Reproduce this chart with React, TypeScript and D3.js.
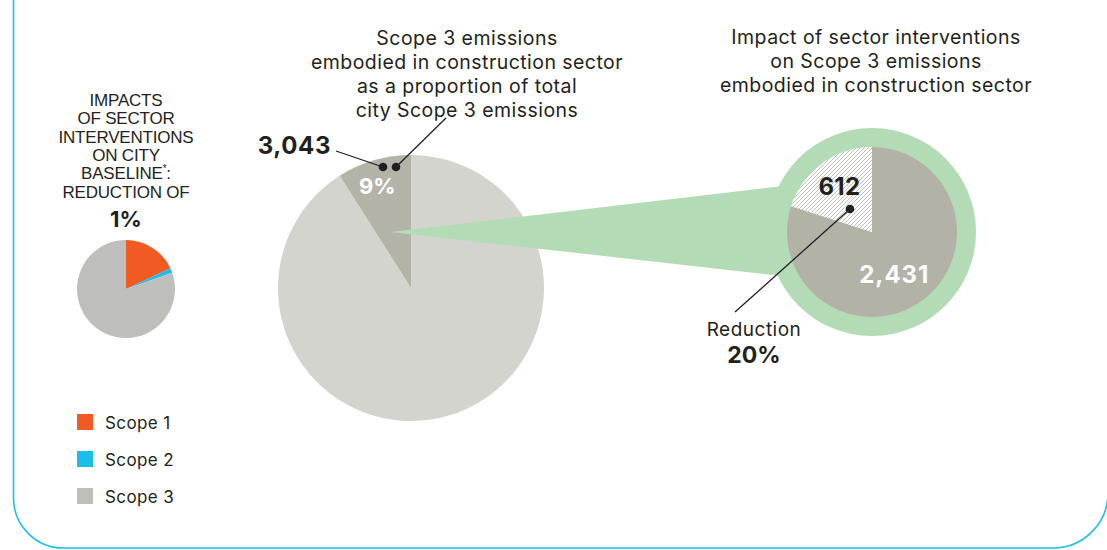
import * as d3 from 'd3'

const scopeLabels = ['Scope 1', 'Scope 2', 'Scope 3']
const scopeShares = [18, 1.6, 80.4]
const scopeColors = ['#F15A22', '#1DBDEA', '#BEBEBA']

const cityShareLabels = ['Other Scope 3', 'Construction sector']
const cityShareValues = [91, 9]

const sectorLabels = ['Remaining', 'Reduction']
const sectorValues = [2431, 612]

const leftTitle = ['IMPACTS', 'OF SECTOR', 'INTERVENTIONS', 'ON CITY', 'BASELINE*:', 'REDUCTION OF']
const leftValue = '1%'
const midTitle = ['Scope 3 emissions', 'embodied in construction sector', 'as a proportion of total', 'city Scope 3 emissions']
const rightTitle = ['Impact of sector interventions', 'on Scope 3 emissions', 'embodied in construction sector']

const W = 1107
const H = 550
const SANS = 'Inter, "Noto Sans", sans-serif'
const ARIAL = '"Liberation Sans", Arial, sans-serif'
const INK = '#231F20'
const GREEN = '#B3DBB5'

export default function App() {
  const pie = d3.pie<number>().sort(null).startAngle(0).endAngle(2 * Math.PI)

  // small pie
  const small = { cx: 126, cy: 289, r: 49 }
  const smallArcs = pie(scopeShares)
  const smallArc = d3.arc<d3.PieArcDatum<number>>().innerRadius(0).outerRadius(small.r)

  // big pie
  const big = { cx: 411, cy: 288, r: 133 }
  const bigArcs = pie(cityShareValues)
  const bigArc = d3.arc<d3.PieArcDatum<number>>().innerRadius(0).outerRadius(big.r)
  const bigLabelArc = d3.arc<d3.PieArcDatum<number>>().innerRadius(big.r * 0.6).outerRadius(big.r * 1.0)

  // right pie
  const rp = { cx: 872, cy: 232, r: 85, ring: 104 }
  const rArcs = pie(sectorValues)
  const rArc = d3.arc<d3.PieArcDatum<number>>().innerRadius(0).outerRadius(rp.r)
  const total = d3.sum(sectorValues)
  const fmt = d3.format(',')
  const reductionPct = d3.format('.0%')(sectorValues[1] / total)
  const sharePct = cityShareValues[1] + '%'

  const slice = bigArcs[1]
  const [lx, ly] = bigLabelArc.centroid(slice)
  const rc0 = d3.arc<d3.PieArcDatum<number>>().innerRadius(0).outerRadius(rp.r * 0.85).centroid(rArcs[0])
  const rc1 = d3.arc<d3.PieArcDatum<number>>().innerRadius(rp.r * 0.45).outerRadius(rp.r * 0.85).centroid(rArcs[1])

  // wedge linking slice to the right pie
  const tip: [number, number] = [big.cx - 21, rp.cy]
  const wedge = d3.line()([
    tip,
    [rp.cx - 72, rp.cy - 48],
    [rp.cx, rp.cy],
    [rp.cx - 72, rp.cy + 46],
  ]) + 'Z'

  const dot1: [number, number] = [big.cx - 28, big.cy - 121]
  const dot2: [number, number] = [big.cx - 15, big.cy - 121]
  const rDot: [number, number] = [rp.cx - 22, rp.cy - 23]

  const rr = 50
  const rr2 = 55
  const border = `M13.5,0 V${548 - rr} A${rr},${rr} 0 0 0 ${13.5 + rr},548 H${1108 - rr2} A${rr2},${rr2} 0 0 0 1108,${548 - rr2} V0`

  return (
    <svg width={W} height={H} style={{ position: 'absolute', left: 0, top: 0, background: '#fff' }}>
      <defs>
        <pattern id="hatch" patternUnits="userSpaceOnUse" width={4} height={4}>
          <rect width={4} height={4} fill="#fff" />
          <path d="M-1,1 l2,-2 M0,4 l4,-4 M3,5 l2,-2" stroke="#A8A8A4" strokeWidth={0.7} />
        </pattern>
      </defs>

      <path d={border} fill="none" stroke="#1BC0EC" strokeWidth={1.6} />

      {/* left block */}
      <g fontFamily={ARIAL} fill={INK} textAnchor="middle">
        {leftTitle.map((t, i) => (
          <text key={t} x={small.cx} y={106 + i * 18.3} fontSize={17} letterSpacing={-0.2}>
            {t.includes('*') ? (
              <>
                {t.split('*')[0]}
                <tspan fontSize={10} dy={-7}>*</tspan>
                <tspan dy={7}>{t.split('*')[1]}</tspan>
              </>
            ) : t}
          </text>
        ))}
        <text x={small.cx} y={227} fontSize={22} fontWeight={700} fontFamily={SANS}>{leftValue}</text>
      </g>
      <g transform={`translate(${small.cx},${small.cy})`}>
        {smallArcs.map((a, i) => (
          <path key={i} d={smallArc(a) || ''} fill={scopeColors[i]} />
        ))}
      </g>

      {/* legend */}
      <g fontFamily={SANS} fontSize={17} letterSpacing={0.4} fill={INK}>
        {scopeLabels.map((s, i) => (
          <g key={s} transform={`translate(77,${414 + i * 37})`}>
            <rect width={16} height={16} fill={scopeColors[i]} />
            <text x={28} y={14.5}>{s}</text>
          </g>
        ))}
      </g>

      {/* big pie */}
      <g transform={`translate(${big.cx},${big.cy})`}>
        {bigArcs.map((a, i) => (
          <path key={cityShareLabels[i]} d={bigArc(a) || ''} fill={i === 1 ? '#B4B3A8' : '#D4D4CF'} />
        ))}
        <text x={lx - 4} y={ly + 8} textAnchor="middle" fontFamily={SANS} fontWeight={700} fontSize={22} fill="#fff">{sharePct}</text>
      </g>

      {/* connector wedge + ring */}
      <path d={wedge} fill={GREEN} />
      <circle cx={rp.cx} cy={rp.cy} r={rp.ring} fill={GREEN} />
      <g transform={`translate(${rp.cx},${rp.cy})`}>
        {rArcs.map((a, i) => (
          <path key={sectorLabels[i]} d={rArc(a) || ''} fill={i === 1 ? 'url(#hatch)' : '#B3B2A7'} />
        ))}
        <text x={rc1[0]} y={rc1[1] + 8} textAnchor="middle" fontFamily={SANS} fontWeight={700} fontSize={24} letterSpacing={0.3} fill={INK}>{fmt(sectorValues[1])}</text>
        <text x={rc0[0] + 1} y={rc0[1] + 22} textAnchor="middle" fontFamily={SANS} fontWeight={700} fontSize={24} letterSpacing={1} fill="#fff">{fmt(sectorValues[0])}</text>
      </g>

      {/* annotations */}
      <g stroke={INK} strokeWidth={1.3} fill="none">
        <line x1={336} y1={151} x2={dot1[0]} y2={dot1[1]} />
        <line x1={dot2[0]} y1={dot2[1]} x2={446} y2={118} />
        <line x1={735} y1={312} x2={rDot[0]} y2={rDot[1]} />
      </g>
      <g fill={INK}>
        <circle cx={dot1[0]} cy={dot1[1]} r={4.3} />
        <circle cx={dot2[0]} cy={dot2[1]} r={4.3} />
        <circle cx={rDot[0]} cy={rDot[1]} r={4.3} />
      </g>
      <text x={331} y={154} textAnchor="end" fontFamily={SANS} fontWeight={700} fontSize={24} letterSpacing={0.6} fill={INK}>{fmt(total)}</text>

      <g fontFamily={SANS} fill={INK} textAnchor="middle">
        <text x={754} y={336} fontSize={19} letterSpacing={0.5}>Reduction</text>
        <text x={754} y={363} fontSize={23} fontWeight={700}>{reductionPct}</text>
      </g>

      {/* titles */}
      <g fontFamily={SANS} fontSize={19.5} letterSpacing={0.45} fill={INK} textAnchor="middle">
        {midTitle.map((t, i) => (
          <text key={t} x={467} y={45 + i * 24}>{t}</text>
        ))}
        {rightTitle.map((t, i) => (
          <text key={t} x={876} y={44 + i * 24}>{t}</text>
        ))}
      </g>
    </svg>
  )
}
